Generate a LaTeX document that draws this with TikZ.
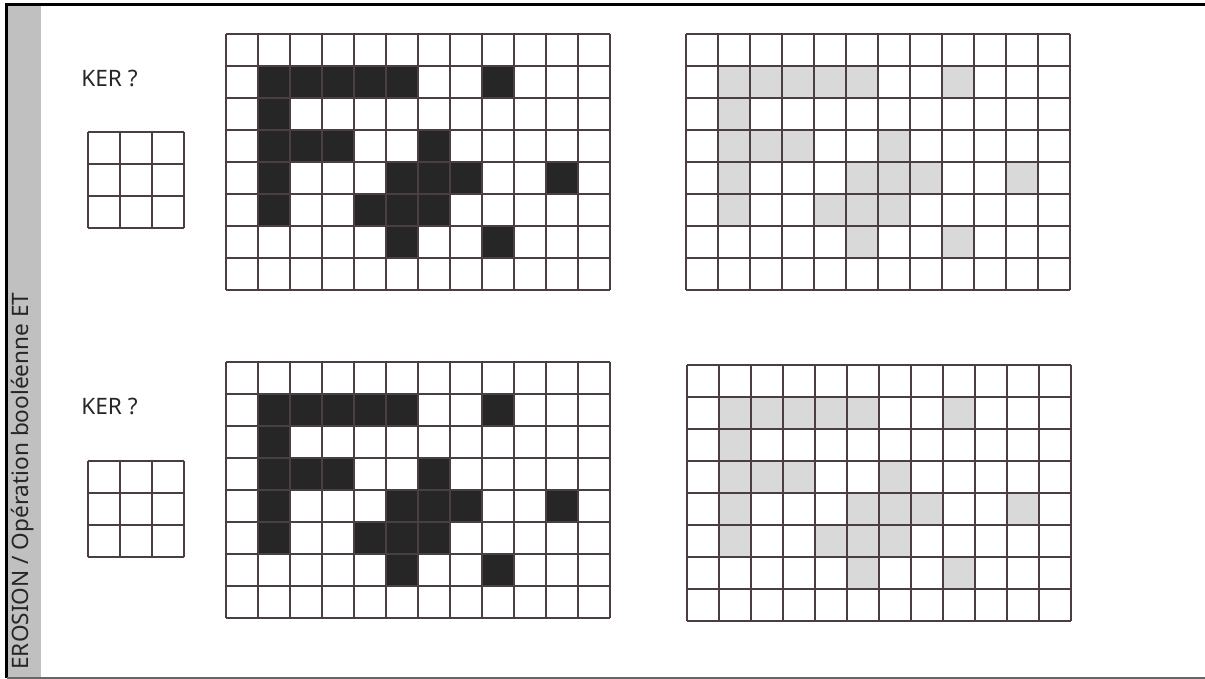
\documentclass[tikz,border=0pt]{standalone}
\usepackage{fontspec}
\setmainfont{Noto Sans}
\definecolor{gridink}{HTML}{4A3D43}
\definecolor{blobdark}{HTML}{262626}
\definecolor{blobpale}{HTML}{D9D9D9}
\definecolor{sidebar}{HTML}{C0C0C0}

% cells of the shape, column/row counted from the top left cell
\newcommand{\blobcells}{1/1,2/1,3/1,4/1,5/1,8/1,1/2,1/3,2/3,3/3,6/3,1/4,5/4,6/4,7/4,10/4,1/5,4/5,5/5,6/5,5/6,8/6}
% fill the shape into a grid whose top left corner is (#1,#2)
\newcommand{\pixfill}[3]{%
  \foreach \c/\r in \blobcells
    \fill[#3] ({#1+32*\c},{#2+32*\r}) rectangle +(32,32);}
% a grid of #3 columns and #4 rows of 32px cells
\newcommand{\pixgrid}[4]{%
  \foreach \i in {0,...,#3}
    \draw[gridline] ({#1+32*\i},#2) -- +(0,{32*#4});
  \foreach \j in {0,...,#4}
    \draw[gridline] (#1,{#2+32*\j}) -- +({32*#3},0);}

\begin{document}
\begin{tikzpicture}[x=0.5pt, y=-0.5pt,
  gridline/.style={gridink, line width=0.6pt},
  every node/.style={font=\fontsize{11.3}{13}\selectfont, text=black!85, inner sep=0pt}]
  \useasboundingbox (0,0) rectangle (1205,679);
  % frame and side bar
  \fill[sidebar] (6.5,4.5) rectangle (41,678);
  \draw[black, line width=1.25pt] (1205,4.5) -- (6.5,4.5) -- (6.5,678);
  \draw[black!60, line width=0.6pt] (6.5,678) -- (1205,678);
  \node[rotate=90, anchor=base west] (title) at (28,670) {EROSION / Opération booléenne ET};

  % upper row
  \node[anchor=base west] (kerup) at (81,87) {KER ?};
  \pixgrid{88}{132}{3}{3}
  \pixfill{226}{34}{blobdark}
  \pixgrid{226}{34}{12}{8}
  \pixfill{686}{34}{blobpale}
  \pixgrid{686}{34}{12}{8}

  % lower row
  \node[anchor=base west] (kerdown) at (81,415) {KER ?};
  \pixgrid{88}{461}{3}{3}
  \pixfill{226}{362}{blobdark}
  \pixgrid{226}{362}{12}{8}
  \pixfill{687}{365}{blobpale}
  \pixgrid{687}{365}{12}{8}
\end{tikzpicture}
\end{document}
